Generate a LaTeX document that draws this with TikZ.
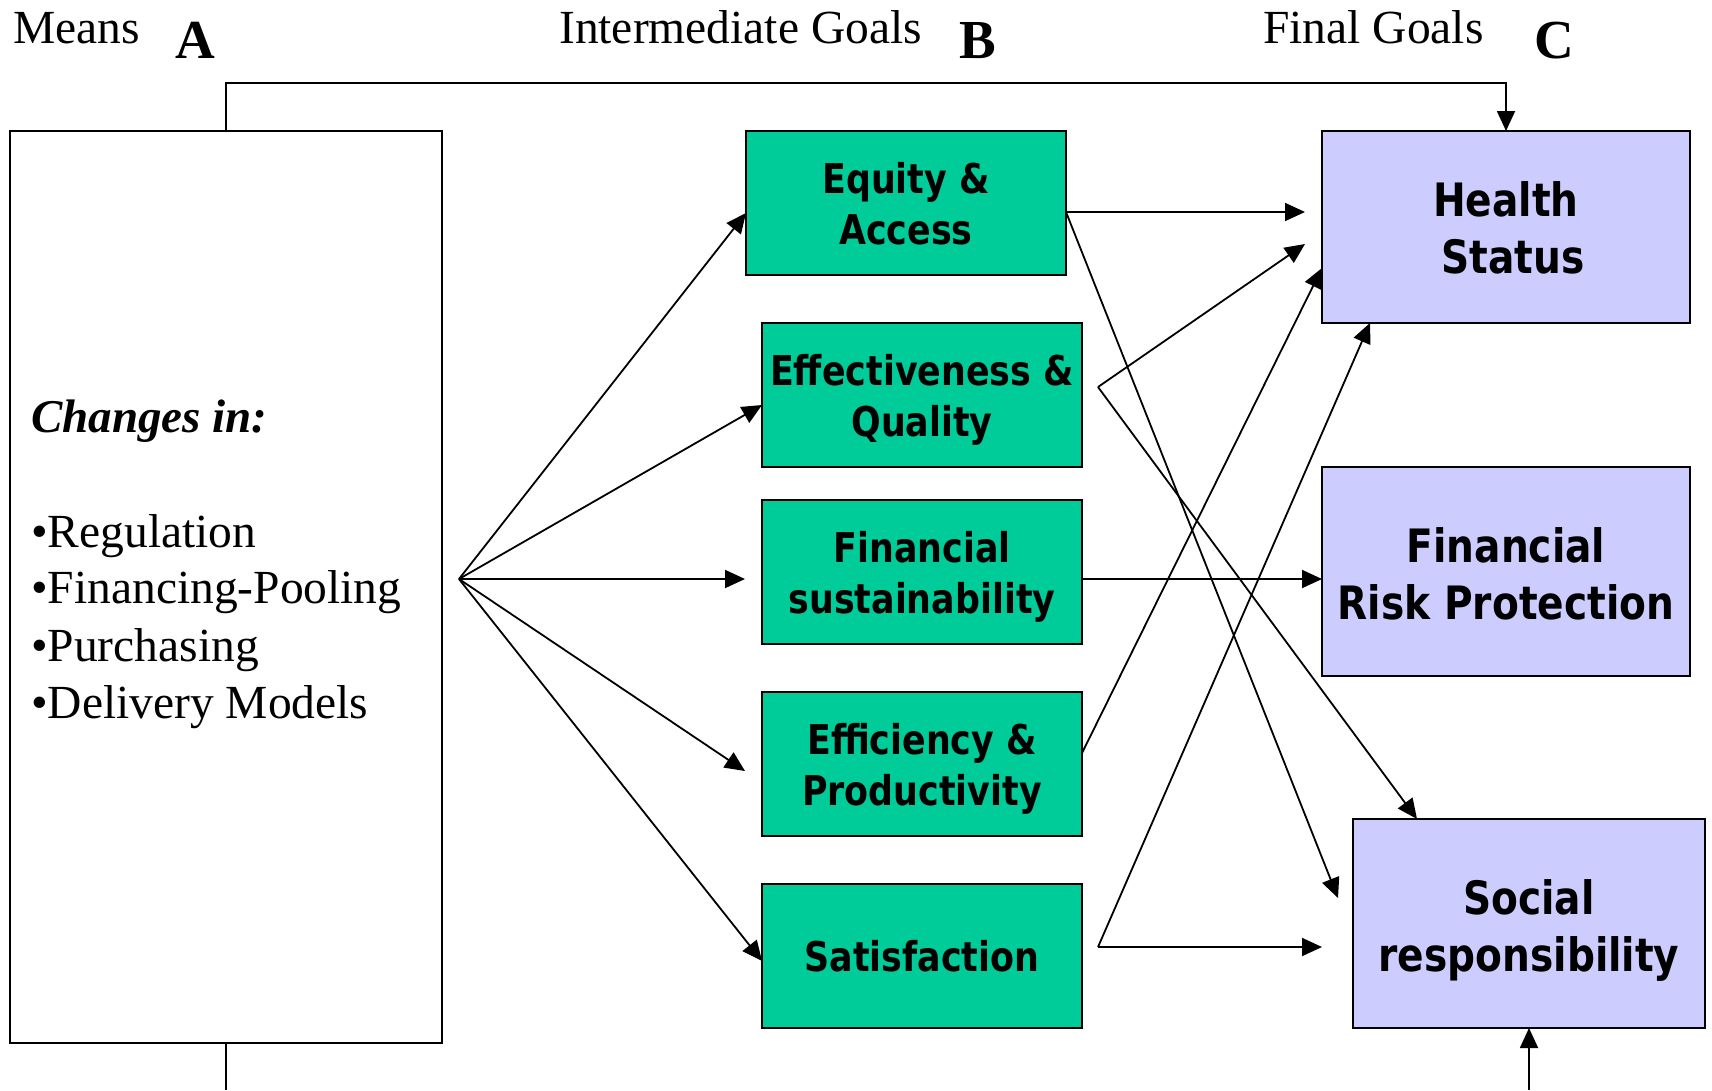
\documentclass[tikz,border=0pt]{standalone}
\usepackage{fontspec}
\setmainfont{Liberation Serif}
\newfontfamily\boxfont{DejaVu Sans}[FakeStretch=0.85]
\usetikzlibrary{arrows.meta}
\definecolor{goalgreen}{HTML}{00CC99}
\definecolor{goalblue}{HTML}{CCCCFF}
% Centred rows of box text: #1 is how far the last baseline sits below the
% box centre, #2 the rows separated by \cr. The zero-width strut keeps the
% node centred on its own baseline.
\newcommand\centredlines[2]{%
  \rule[-20pt]{0pt}{40pt}%
  \smash{\lower#1\vbox{\halign{\hfil##\hfil\cr#2\cr}}}}
\begin{document}
\begin{tikzpicture}[x=1pt,y=-1pt,
  box/.style={draw=black, line width=2pt, inner sep=0pt, outer sep=0pt},
  midbox/.style={box, fill=goalgreen, minimum width=320pt, minimum height=144pt,
    font=\boxfont\bfseries\fontsize{41}{51}\selectfont},
  endbox/.style={box, fill=goalblue, font=\boxfont\bfseries\fontsize{46}{57}\selectfont},
  head/.style={anchor=base west, inner sep=0pt, font=\fontsize{47.5}{57}\selectfont},
  tag/.style={anchor=base west, inner sep=0pt, font=\bfseries\fontsize{55}{66}\selectfont},
  item/.style={anchor=base west, inner sep=0pt, font=\fontsize{47.5}{57}\selectfont},
  link/.style={line width=1.8pt, -{Triangle[length=20pt,width=18pt]}},
  plain/.style={line width=1.8pt},
]
\useasboundingbox (0,0) rectangle (1712,1090);

% column headings
\node[head] (means-h) at (13,43) {Means};
\node[tag]  (a-tag)   at (175,58) {A};
\node[head] (mid-h)   at (559,43) {Intermediate Goals};
\node[tag]  (b-tag)   at (959,58) {B};
\node[head] (final-h) at (1263,43) {Final Goals};
\node[tag]  (c-tag)   at (1534,58) {C};

% means
\node[box, minimum width=432pt, minimum height=912pt] (means) at (226,587) {};
\node[item, font=\bfseries\itshape\fontsize{47}{57}\selectfont] (chg) at (31,432) {Changes in:};
\node[item] (reg)  at (31,547) {•Regulation};
\node[item] (pool) at (31,603) {•Financing-Pooling};
\node[item] (pur)  at (31,661) {•Purchasing};
\node[item] (del)  at (31,718) {•Delivery Models};

% intermediate goals
\node[midbox] (eq)    at (906,203) {\centredlines{41pt}{Equity \&\cr Access}};
\node[midbox] (eff)   at (922,395) {\centredlines{41pt}{Effectiveness \&\cr Quality}};
\node[midbox] (fin)   at (922,572) {\centredlines{41pt}{Financial\cr sustainability}};
\node[midbox] (effic) at (922,764) {\centredlines{41pt}{Efficiency \&\cr Productivity}};
\node[midbox] (sat)   at (922,956) {\centredlines{15pt}{Satisfaction}};

% final goals
\node[endbox, minimum width=368pt, minimum height=192pt] (hs)  at (1506,227)
  {\centredlines{46pt}{Health\cr\ Status}};
\node[endbox, minimum width=368pt, minimum height=209pt] (frp) at (1506,571.5)
  {\centredlines{47.5pt}{Financial\cr Risk Protection}};
\node[endbox, minimum width=352pt, minimum height=209pt] (sr)  at (1529,923.5)
  {\centredlines{48pt}{Social\cr responsibility}};

% helper points
\coordinate (fan)      at (459,579);
\coordinate (finIn)    at (745,579);
\coordinate (efficIn)  at (745,771);
\coordinate (eqOut)    at ([yshift=-9pt]eq.east);
\coordinate (hsIn1)    at (1305,212);
\coordinate (hsIn2)    at (1305,244);
\coordinate (srIn1)    at (1338,898);
\coordinate (srIn2)    at (1322,947);
\coordinate (effPivot) at (1098,387);
\coordinate (satPivot) at (1098,947);
\coordinate (topline)  at (0,83);
\coordinate (pageBottom) at (0,1090);

% means to intermediate goals
\draw[link] (fan) -- ([yshift=-10pt]eq.west);
\draw[link] (fan) -- ([yshift=-10pt]eff.west);
\draw[link] (fan) -- (finIn);
\draw[link] (fan) -- (efficIn);
\draw[link] (fan) -- ([yshift=-5pt]sat.west);

% intermediate goals to final goals
\draw[link] (eqOut) -- (hsIn1);
\draw[link] (eqOut) -- (srIn1);
\draw[link] (effPivot) -- (hsIn2);
\draw[link] (effPivot) -- ([xshift=-112pt]sr.north);
\draw[link] (fin.east |- finIn) -- (frp.west |- finIn);
\draw[link] ([yshift=11pt]effic.east) -- ([yshift=-41pt]hs.west);
\draw[link] (satPivot) -- ([xshift=-136pt]hs.south);
\draw[link] (satPivot) -- (srIn2);

% direct path from means to health status
\draw[link] (means.north) -- (means.north |- topline) -- (hs.north |- topline) -- (hs.north);

% lines leaving the page at the bottom
\draw[plain] (means.south) -- (means.south |- pageBottom);
\draw[link] (sr.south |- pageBottom) -- (sr.south);
\end{tikzpicture}
\end{document}
